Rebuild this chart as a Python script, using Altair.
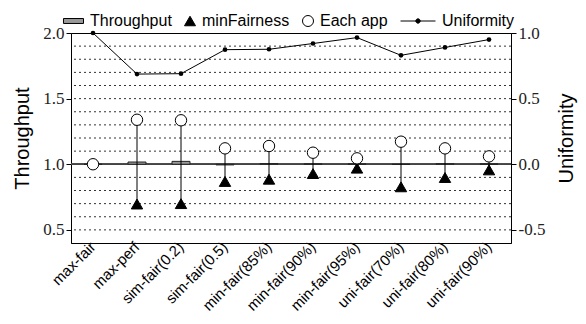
import altair as alt
import pandas as pd

categories = ["max-fair", "max-perf", "sim-fair(0.2)", "sim-fair(0.5)",
              "min-fair(85%)", "min-fair(90%)", "min-fair(95%)",
              "uni-fair(70%)", "uni-fair(80%)", "uni-fair(90%)"]
throughput = [1.0, 1.017, 1.022, 0.995, 1.005, 1.003, 1.002, 0.999, 1.004, 1.002]
min_fairness = [None, 0.697, 0.700, 0.869, 0.886, 0.929, 0.970, 0.828, 0.899, 0.957]
each_app_max = [1.000, 1.339, 1.335, 1.121, 1.139, 1.088, 1.045, 1.172, 1.121, 1.060]
uniformity = [1.000, 0.687, 0.690, 0.873, 0.876, 0.920, 0.965, 0.830, 0.890, 0.950]

grid_values = [0.5, 0.6, 0.7, 0.8, 0.9, 1.1, 1.2, 1.3, 1.4, 1.5, 1.6, 1.7, 1.8, 1.9]
left_ticks = [0.5, 1.0, 1.5, 2.0]
right_ticks = [-0.5, 0.0, 0.5, 1.0]
series = ["Throughput", "minFairness", "Each app", "Uniformity"]

df = pd.DataFrame({"cat": categories, "thr": throughput, "minf": min_fairness,
                   "each": each_app_max, "unif": uniformity})
pts = pd.DataFrame({
    "cat": categories + categories,
    "val": min_fairness + each_app_max,
    "series": ["minFairness"] * len(categories) + ["Each app"] * len(categories),
})
grid_df = pd.DataFrame({"g": grid_values})

SANS = "Liberation Sans"
SERIF = "Liberation Serif"
LABEL_EXPR = "(datum.value < 0 ? '-' : '') + format(abs(datum.value), '.1f')"

x_enc = alt.X("cat:N", sort=categories,
              scale=alt.Scale(paddingInner=0, paddingOuter=0),
              axis=alt.Axis(title=None, labelAngle=-45, labelAlign="right",
                            labelBaseline="middle", labelFont=SANS,
                            labelFontSize=15, labelColor="black",
                            ticks=False, domain=False, labelPadding=1))

yscale = alt.Scale(domain=[0.4, 2.0], nice=False, zero=False)

grid = alt.Chart(grid_df).mark_rule(color="#333", strokeDash=[2, 3], strokeWidth=1).encode(
    y=alt.Y("g:Q", scale=yscale,
            axis=alt.Axis(values=left_ticks, labelExpr=LABEL_EXPR, title="Throughput",
                          labelFont=SERIF, labelFontSize=17, labelColor="#222",
                          titleFont=SANS, titleFontSize=20, titleFontWeight="normal",
                          titleColor="black", tickSize=5, tickColor="black",
                          domainColor="black", grid=False, titlePadding=10,
                          labelPadding=2))
)
base_line = alt.Chart(df).mark_rule(color="#444", strokeWidth=1.2).encode(
    y=alt.datum(1.0)
)

bars = alt.Chart(df).mark_bar(size=18, fill="#999", stroke="#222", strokeWidth=1).encode(
    x=x_enc,
    y=alt.Y("thr:Q", scale=yscale),
    y2=alt.datum(1.0),
)

vrules = alt.Chart(df).mark_rule(color="black", strokeWidth=1).encode(
    x=alt.X("cat:N", sort=categories),
    y=alt.Y("minf:Q", scale=yscale),
    y2="each:Q",
)

points = alt.Chart(pts).mark_point(filled=True, size=130, strokeWidth=1, opacity=1).encode(
    x=alt.X("cat:N", sort=categories),
    y=alt.Y("val:Q", scale=yscale),
    shape=alt.Shape("series:N", scale=alt.Scale(
        domain=series,
        range=["M-2.64,-0.45H1V0.45H-2.64Z", "triangle-up", "circle",
               "M-5.36,0H1M-2.58,0A0.4,0.4 0 1,0 -1.78,0A0.4,0.4 0 1,0 -2.58,0Z"]),
        legend=alt.Legend(orient="none", legendX=-1, legendY=-20, direction="horizontal",
                          title=None, labelFont=SANS, labelFontSize=16, labelColor="black",
                          symbolSize=121, labelOffset=4, columnPadding=10,
                          symbolStrokeWidth=1)),
    fill=alt.Fill("series:N", scale=alt.Scale(
        domain=series, range=["#999", "black", "white", "black"]), legend=None),
    stroke=alt.Stroke("series:N", scale=alt.Scale(
        domain=series, range=["black", "black", "black", "black"]), legend=None),
)

left = alt.layer(grid, base_line, bars, vrules, points)

right = alt.Chart(df).mark_line(color="black", strokeWidth=1,
                                point=alt.OverlayMarkDef(filled=True, size=22, color="black")).encode(
    x=alt.X("cat:N", sort=categories),
    y=alt.Y("unif:Q", scale=alt.Scale(domain=[-0.6, 1.0], nice=False, zero=False),
            axis=alt.Axis(orient="right", values=right_ticks, labelExpr=LABEL_EXPR,
                          title="Uniformity", labelFont=SERIF, labelFontSize=17,
                          labelColor="#222", titleFont=SANS, titleFontSize=20,
                          titleFontWeight="normal", titleColor="black", titleAngle=270,
                          tickSize=5, tickColor="black", domainColor="black",
                          grid=False, titlePadding=32, labelPadding=2)),
)

chart = alt.layer(left, right).resolve_scale(y="independent").properties(
    width=440, height=210,
    autosize=alt.AutoSizeParams(type="none"),
    padding={"left": 63, "top": 25, "right": 67, "bottom": 73},
).configure_view(stroke="black", strokeWidth=1)

chart.save("out.html", embed_options={"renderer": "svg", "actions": False})
